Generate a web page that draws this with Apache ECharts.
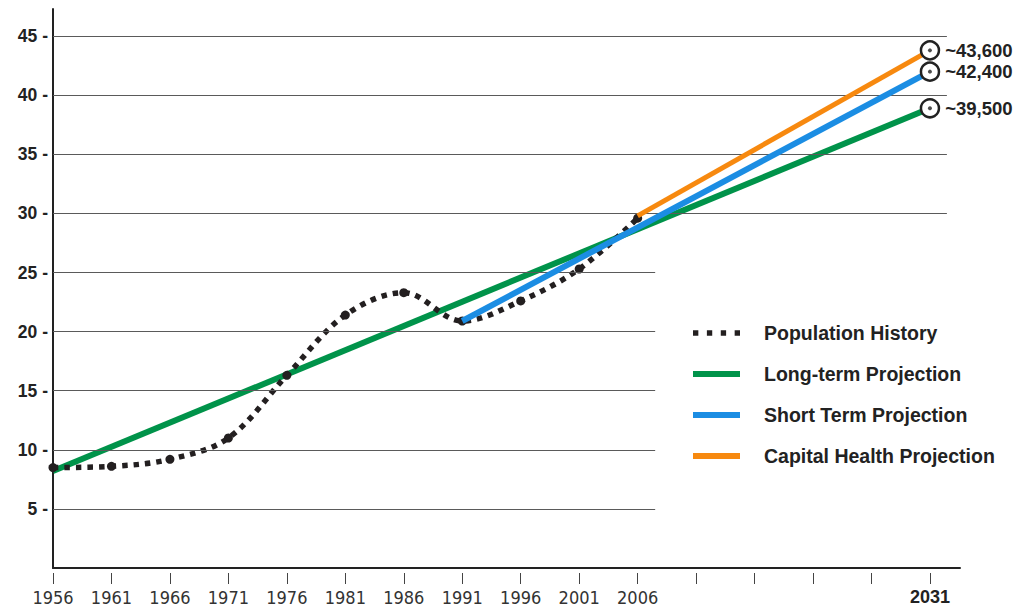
<!DOCTYPE html>
<html><head><meta charset="utf-8">
<script src="https://cdn.jsdelivr.net/npm/echarts@6/dist/echarts.min.js"></script>
<style>html,body{margin:0;padding:0;background:#fff}#c{width:1035px;height:608px}</style>
</head><body><div id="c"></div>
<script>
// ---- data ----
const historyYears = [1956, 1961, 1966, 1971, 1976, 1981, 1986, 1991, 1996, 2001, 2006];
const historyValues = [8.5, 8.6, 9.2, 11.0, 16.3, 21.4, 23.3, 20.9, 22.6, 25.3, 29.6];
const longTermYears = [1956, 2031];
const longTermValues = [8.2, 38.9];
const shortTermYears = [1991, 2031];
const shortTermValues = [20.9, 42.0];
const capitalYears = [2006, 2031];
const capitalValues = [29.8, 43.8];
const endYear = 2031;
const endValues = [43.8, 42.0, 38.9];
const endLabels = ['~43,600', '~42,400', '~39,500'];
const xTickYears = [1956, 1961, 1966, 1971, 1976, 1981, 1986, 1991, 1996, 2001, 2006, 2011, 2016, 2021, 2026, 2031];
const xLabelYears = [1956, 1961, 1966, 1971, 1976, 1981, 1986, 1991, 1996, 2001, 2006, 2031];
const yTickValues = [5, 10, 15, 20, 25, 30, 35, 40, 45];
const upperGridValues = [30, 35, 40, 45];
const lowerGridValues = [5, 10, 15, 20, 25];
const seriesNames = ['Population History', 'Long-term Projection', 'Short Term Projection', 'Capital Health Projection'];

// ---- build ----
const pairs = (xs, ys) => xs.map((x, i) => [x, ys[i]]);
const X_MIN = 1956, X_MAX = 2033.57, Y_MAX = 47.3;
const UPPER_END = 2032.45, LOWER_END = 2007.5;
const gridLines = [];
upperGridValues.forEach(v => gridLines.push([{ coord: [X_MIN, v] }, { coord: [UPPER_END, v] }]));
lowerGridValues.forEach(v => gridLines.push([{ coord: [X_MIN, v] }, { coord: [LOWER_END, v] }]));

const TXT = '#222222';
const chart = echarts.init(document.getElementById('c'), null, { renderer: 'svg' });
chart.setOption({
  animation: false,
  backgroundColor: '#ffffff',
  grid: { left: 53, right: 75, top: 9, bottom: 40 },
  xAxis: [{
    type: 'value', min: X_MIN, max: X_MAX,
    axisLine: { show: true, lineStyle: { color: TXT, width: 2 } },
    axisTick: { show: false }, axisLabel: { show: false }, splitLine: { show: false }
  }, {
    type: 'value', min: X_MIN, max: X_MAX, position: 'bottom', offset: 5,
    axisLine: { show: false },
    axisTick: { show: true, length: 11, lineStyle: { color: '#444', width: 1 }, customValues: xTickYears },
    axisLabel: {
      show: true, margin: 15, customValues: xLabelYears,
      fontFamily: '"Liberation Sans Narrow", "DejaVu Sans Condensed", sans-serif',
      fontSize: 18, color: '#333',
      formatter: v => v === endYear ? '{b|' + v + '}' : String(v),
      rich: { b: { fontFamily: '"Liberation Sans", Arial, sans-serif', fontWeight: 'bold', fontSize: 18, color: TXT } }
    },
    splitLine: { show: false }
  }],
  yAxis: {
    type: 'value', min: 0, max: Y_MAX,
    axisLine: { show: true, lineStyle: { color: TXT, width: 2 } },
    axisTick: { show: false },
    axisLabel: {
      customValues: yTickValues, margin: 5,
      formatter: v => v + ' -',
      fontFamily: '"Liberation Sans", Arial, sans-serif', fontWeight: 'bold', fontSize: 17.5, color: TXT
    },
    splitLine: { show: false }
  },
  legend: {
    orient: 'vertical', left: 688, top: 316,
    itemWidth: 47, itemHeight: 6, itemGap: 17,
    selectedMode: false,
    textStyle: { fontFamily: '"Liberation Sans", Arial, sans-serif', fontWeight: 'bold', fontSize: 19.5, color: TXT, lineHeight: 24, padding: [0, 0, 0, 19] },
    data: [
      { name: seriesNames[0], icon: 'path://M0,0h5v5h-5z M13,0h5v5h-5z M26,0h5v5h-5z M39,0h5v5h-5z' },
      { name: seriesNames[1], icon: 'rect' },
      { name: seriesNames[2], icon: 'rect' },
      { name: seriesNames[3], icon: 'rect' }
    ]
  },
  series: [
    {
      name: 'grid', type: 'line', data: [], silent: true, z: 1,
      markLine: { silent: true, symbol: 'none', label: { show: false }, animation: false,
        lineStyle: { color: '#5a5a5a', width: 1, type: 'solid' }, emphasis: { disabled: true }, data: gridLines }
    },
    {
      name: seriesNames[1], type: 'line', data: pairs(longTermYears, longTermValues), symbol: 'none', z: 3,
      itemStyle: { color: '#00934A' }, lineStyle: { color: '#00934A', width: 6 }
    },
    {
      name: seriesNames[0], type: 'line', data: pairs(historyYears, historyValues), smooth: 0.35, z: 4,
      symbol: 'circle', symbolSize: 9, showSymbol: true,
      itemStyle: { color: '#231f20' },
      lineStyle: { color: '#231f20', width: 5.5, type: [5.5, 6], cap: 'butt' }
    },
    {
      name: seriesNames[2], type: 'line', data: pairs(shortTermYears, shortTermValues), symbol: 'none', z: 5,
      itemStyle: { color: '#1B8DE3' }, lineStyle: { color: '#1B8DE3', width: 6 }
    },
    {
      name: seriesNames[3], type: 'line', data: pairs(capitalYears, capitalValues), symbol: 'none', z: 5,
      itemStyle: { color: '#F7890F' }, lineStyle: { color: '#F7890F', width: 5 }
    },
    {
      name: 'endRings', type: 'scatter', z: 8, symbol: 'circle', symbolSize: 18,
      data: endValues.map(v => [endYear, v]),
      itemStyle: { color: '#ffffff', borderColor: TXT, borderWidth: 2.5, opacity: 1 },
      label: {
        show: true, position: 'right', distance: 5,
        formatter: p => endLabels[p.dataIndex],
        fontFamily: '"Liberation Sans", Arial, sans-serif', fontWeight: 'bold', fontSize: 18.5, color: TXT
      }
    },
    {
      name: 'endDots', type: 'scatter', z: 9, symbol: 'circle', symbolSize: 4,
      data: endValues.map(v => [endYear, v]),
      itemStyle: { color: TXT }
    }
  ]
});
</script>
</body></html>
